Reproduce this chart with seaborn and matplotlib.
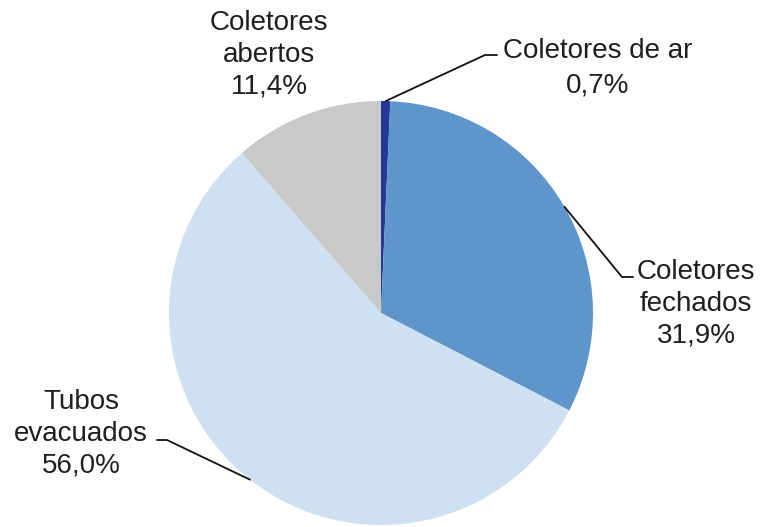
import numpy as np
import matplotlib
matplotlib.use("Agg")
import matplotlib.pyplot as plt
import seaborn as sns

# data
categories = ["Coletores de ar", "Coletores\nfechados", "Tubos\nevacuados", "Coletores\nabertos"]
shares = [0.7, 31.9, 56.0, 11.4]
colors = ["#25379b", "#5e95ca", "#cfe0f2", "#c9c9c9"]

sns.set_theme(style="white")
plt.rcParams["font.family"] = ["Liberation Sans", "DejaVu Sans"]

fig = plt.figure(figsize=(7.6, 5.27), dpi=100)
ax = fig.add_axes([0, 0, 1, 1])

# pixel-like coords: x right, y up
cx, cy, r = 381, 527 - 313, 212
wedges, _ = ax.pie(shares, colors=colors, startangle=90, counterclock=False,
                   center=(cx, cy), radius=r, wedgeprops=dict(linewidth=0))
ax.set_xlim(0, 760)
ax.set_ylim(0, 527)
ax.set_aspect("auto")
ax.axis("off")

def pct(v):
    return f"{v:.1f}%".replace(".", ",")

def edge_point(w):
    ang = np.deg2rad((w.theta1 + w.theta2) / 2)
    return cx + r * np.cos(ang), cy + r * np.sin(ang)

txt = dict(fontsize=20, color="#1f1f1f", ha="center", va="center", linespacing=1.28)
lk = dict(color="#111111", lw=1.3)

# Coletores de ar
x0, y0 = edge_point(wedges[0])
ax.plot([x0, 485, 497], [y0, 527 - 55, 527 - 55], **lk)
ax.text(598, 527 - 51, categories[0], **txt)
ax.text(598, 527 - 86, pct(shares[0]), **txt)

# Coletores fechados
x1, y1 = edge_point(wedges[1])
ax.plot([x1, 622, 633], [y1, 527 - 277, 527 - 277], **lk)
ax.text(696, 527 - 304, categories[1] + "\n" + pct(shares[1]), **txt)

# Tubos evacuados
x2, y2 = edge_point(wedges[2])
ax.plot([x2, 167, 157], [y2, 527 - 440, 527 - 440], **lk)
ax.text(81, 527 - 434, categories[2] + "\n" + pct(shares[2]), **txt)

# Coletores abertos
ax.text(269, 527 - 55, categories[3] + "\n" + pct(shares[3]), **txt)

fig.savefig("out.png", dpi=100)
